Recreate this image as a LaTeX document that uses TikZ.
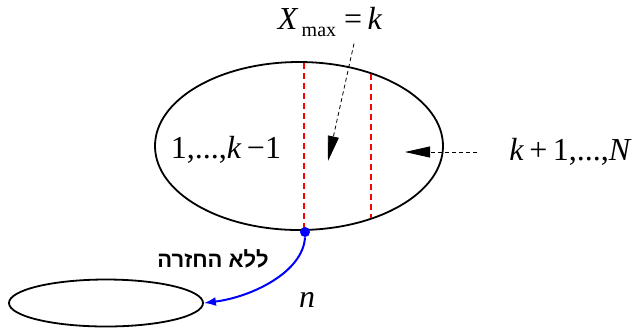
\documentclass[tikz,border=0pt]{standalone}
\usepackage{fontspec}
\setmainfont{Liberation Serif}
\newfontfamily\hebfont[Script=Hebrew]{Liberation Sans}
\TeXXeTstate=1
\usetikzlibrary{arrows.meta,positioning,shapes.geometric}

\begin{document}
\begin{tikzpicture}[
    x=0.5pt, y=-0.5pt,
    every node/.style={font=\fontsize{16}{19}\selectfont},
    set/.style={ellipse, draw, line width=0.9pt, inner sep=0pt},
    split/.style={red, thick, dash pattern=on 3pt off 2pt},
    pointer/.style={-{Triangle[length=12.5pt,width=5.5pt]}, dash pattern=on 2pt off 1.5pt},
    pick/.style={-{Latex[length=6pt,width=4.5pt]}, blue, line width=1pt},
    dot/.style={circle, fill=blue, inner sep=0pt, minimum size=5pt}
]
    \useasboundingbox (0,0) rectangle (633,329);
    % population and sample
    \node[set, minimum width=144pt, minimum height=84pt] (urn) at (299,146) {};
    \node[set, minimum width=97pt, minimum height=23.5pt] (sample) at (106,303) {};
    \draw[split] (304,63) -- (304,231);
    \draw[split] (371,74) -- (371,218);
    \node[dot] (draw) at (305,232) {};
    % labels
    \node (low) at (226,150) {1,...,\textit{k}\,−1};
    \node (maxlabel) at (330,22) {\textit{X}\raisebox{-0.45ex}{\fontsize{10}{12}\selectfont\,max}\ =\,\textit{k}};
    \node[anchor=west, inner sep=0pt] (restlabel) at (509,152) {\textit{k}\,+\,1,...,\textit{N}};
    \node[font={\hebfont\bfseries\fontsize{11}{13}\selectfont}] (rule) at (213,259) {\beginR ללא החזרה\endR};
    \node (size) at (307,300) {\textit{n}};
    % pointers
    \coordinate (maxtip) at (328,161);
    \coordinate (resttip) at (405,152);
    \draw[pointer] ([xshift=12pt]maxlabel.south) -- (maxtip);
    \draw[pointer] ([xshift=-16pt]restlabel.west) -- (resttip);
    \draw[pick] (draw.south) .. controls (303,272) and (252,297) .. (sample.east);
\end{tikzpicture}
\end{document}
